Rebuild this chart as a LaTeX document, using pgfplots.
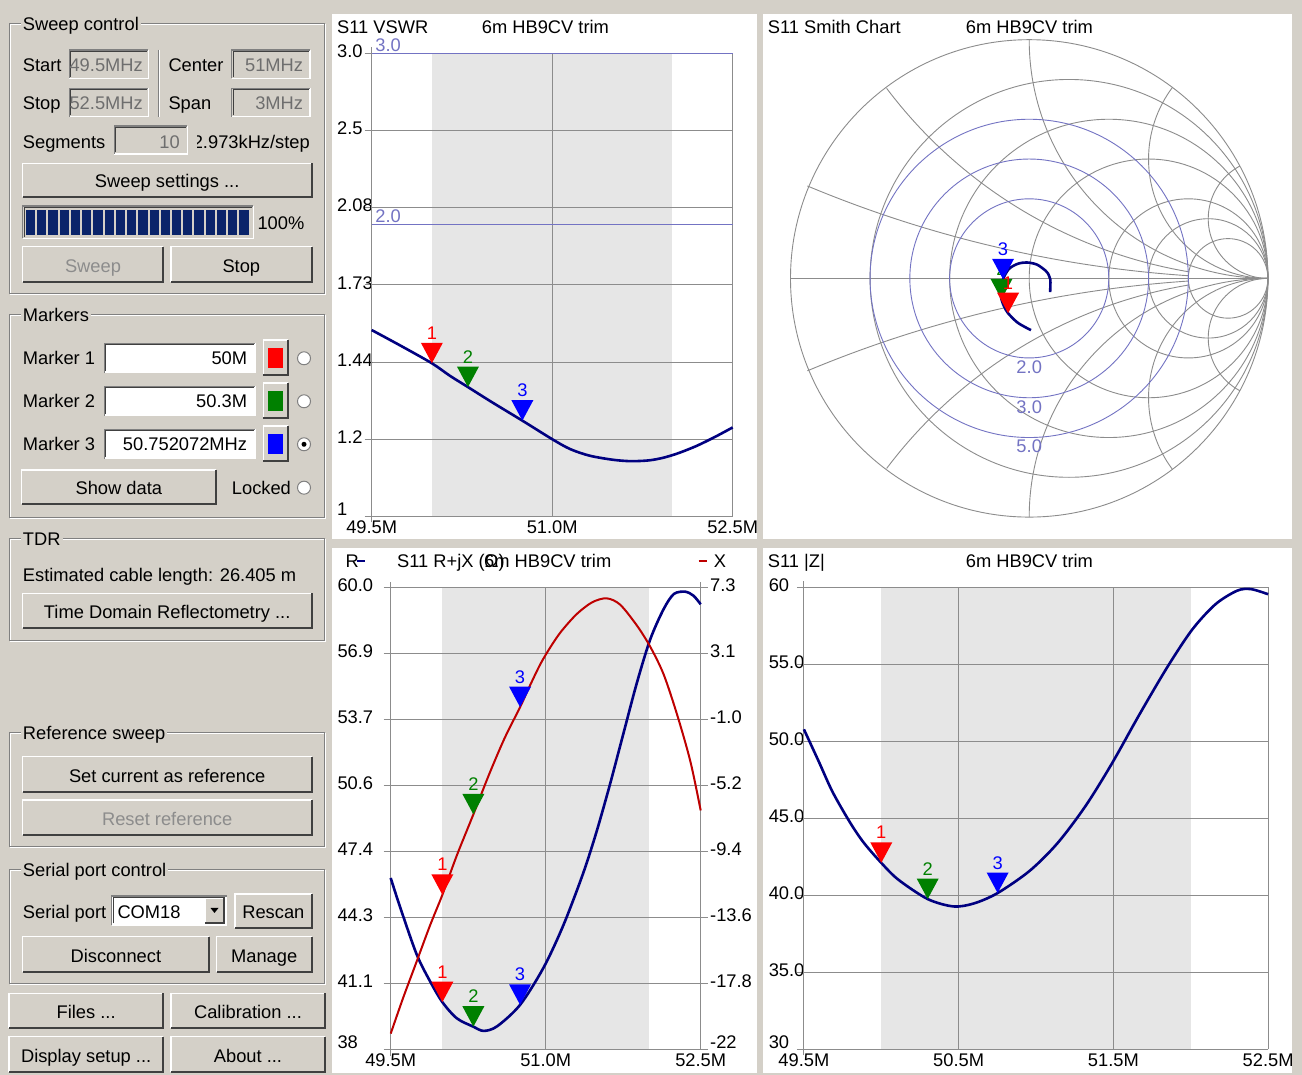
\documentclass[border=0pt]{standalone}
\usepackage{fontspec}
\setmainfont{Liberation Sans}
\usepackage{pgfplots}
\pgfplotsset{compat=1.18}
\usetikzlibrary{calc}

\definecolor{guibg}{RGB}{212,208,200}
\definecolor{gridgray}{RGB}{140,140,140}
\definecolor{bandgray}{RGB}{230,230,230}
\definecolor{navy}{RGB}{0,0,128}
\definecolor{xred}{RGB}{190,0,0}
\definecolor{swrcol}{RGB}{115,115,195}
\definecolor{mred}{RGB}{255,0,0}
\definecolor{mgreen}{RGB}{0,128,0}
\definecolor{mblue}{RGB}{0,0,255}
\definecolor{darkedge}{RGB}{64,64,64}
\definecolor{midedge}{RGB}{128,128,128}
\definecolor{distext}{RGB}{140,140,140}
\definecolor{boxtext}{RGB}{110,110,110}
\definecolor{barblue}{RGB}{10,36,106}

\newcommand{\ff}{\fontsize{18.3}{22}\selectfont}
\def\R{238.7pt}

\pgfdeclareplotmark{vtri}{%
  \pgfpathmoveto{\pgfqpoint{0pt}{0pt}}%
  \pgfpathlineto{\pgfqpoint{-11pt}{20.5pt}}%
  \pgfpathlineto{\pgfqpoint{11pt}{20.5pt}}%
  \pgfpathclose\pgfusepathqfill}

\tikzset{
  lbl/.style={anchor=base west, inner sep=0pt, font=\ff},
  rlbl/.style={anchor=base east, inner sep=0pt, font=\ff},
  sg/.style={gridgray, line width=0.9pt},
}

\pgfplotsset{
  vna/.style={scale only axis, anchor=south west, clip=false,
    axis line style={draw=none},
    grid=major, major grid style={gridgray, line width=0.9pt},
    tick style={gridgray, line width=0.9pt},
    tick align=outside, major tick length=7pt,
    xtick pos=bottom, ytick pos=left,
    xtick style={draw=none},
    ticklabel style={font=\ff, inner sep=0pt},
    xticklabel style={anchor=north, yshift=3pt},
    yticklabel style={anchor=base west, yshift=-4.3pt},
    /pgf/number format/assume math mode=true},
  mk/.style={only marks, mark=vtri, color=#1, point meta=explicit symbolic,
    nodes near coords,
    nodes near coords style={anchor=base, inner sep=0pt, yshift=24pt, font=\ff, text=#1}},
  crv/.style={line width=2.6pt, smooth},
}

\newcommand{\btn}[6][black]{%
  \fill[guibg] (#2,#3) rectangle (#4,#5);
  \draw[white, line width=1.5pt] (#2,#5) -- (#2,#3) -- (#4,#3);
  \draw[darkedge, line width=1.8pt] (#2,#5) -- (#4,#5) -- (#4,#3);
  \node[anchor=base, inner sep=0pt, font=\ff, text=#1] at ($(#2,#5)!0.5!(#4,#5)+(0,-9.5)$) {#6};}
\newcommand{\sunk}[5]{%
  \fill[#5] (#1,#2) rectangle (#3,#4);
  \draw[white, line width=1.5pt] (#1,#4) -- (#3,#4) -- (#3,#2);
  \draw[midedge, line width=1.5pt] (#1,#4) -- (#1,#2) -- (#3,#2);
  \draw[darkedge, line width=1pt] (#1+1.5,#4-1.5) -- (#1+1.5,#2+1.5) -- (#3-1.5,#2+1.5);}
\newcommand{\grp}[5]{%
  \draw[white, line width=1pt] (#1+1,#2+1) rectangle (#3+1,#4+1);
  \draw[midedge, line width=1pt] (#1,#2) rectangle (#3,#4);
  \node[anchor=base west, inner xsep=2pt, inner ysep=2pt, fill=guibg, font=\ff] at (#1+11.4,#2+7) {#5};}
\newcommand{\radio}[3]{%
  \fill[white] (#1,#2) circle[radius=6.5pt];
  \draw[midedge, line width=1pt] (#1,#2) circle[radius=6.5pt];
  \ifnum#3=1 \fill[black] (#1,#2) circle[radius=2.5pt];\fi}

\begin{document}
\begin{tikzpicture}
\begin{scope}[yshift=1075pt, x=1pt, y=-1pt]
\fill[guibg] (0,0) rectangle (1302,1075);
\fill[white] (332,14) rectangle (757,539);
\fill[white] (763,14) rectangle (1292,539);
\fill[white] (332,548) rectangle (757,1073);
\fill[white] (763,548) rectangle (1292,1073);
% band highlight 50-52 MHz
\fill[bandgray] (431.7,53.3) rectangle (671.7,516.4);
\fill[bandgray] (442.4,587.3) rectangle (649.0,1049.4);
\fill[bandgray] (881.3,587.3) rectangle (1190.7,1049.4);
% chart titles
\node[lbl] at (337,33.7) {S11 VSWR};
\node[lbl] at (481.7,33.7) {6m HB9CV trim};
\node[lbl] at (767.6,33.7) {S11 Smith Chart};
\node[lbl] at (965.7,33.7) {6m HB9CV trim};
\node[lbl] at (345.3,567.7) {R};
\draw[navy, line width=2.5pt] (357,561) -- (365,561);
\node[lbl] at (397,567.7) {S11 R+jX (Ω)};
\node[lbl] at (484,567.7) {6m HB9CV trim};
\draw[xred, line width=2.5pt] (698.7,561) -- (707,561);
\node[lbl] at (713.7,567.7) {X};
\node[lbl] at (767.6,567.7) {S11 |Z|};
\node[lbl] at (965.7,567.7) {6m HB9CV trim};

% ---------- Sweep control
\grp{9.3}{24}{324.5}{293.3}{Sweep control}
\node[lbl] at (22.7,71.7) {Start};
\sunk{69.3}{50}{148.3}{78.3}{guibg}
\begin{scope}\clip (70.8,51.5) rectangle (147,77); \node[rlbl, text=boxtext] at (143,71.7) {49.5MHz};\end{scope}
\node[lbl] at (168.3,71.7) {Center};
\sunk{231.7}{50}{310}{78.3}{guibg}
\node[rlbl, text=boxtext] at (303.3,71.7) {51MHz};
\node[lbl] at (22.7,110) {Stop};
\sunk{69.3}{88.3}{148.3}{116.7}{guibg}
\begin{scope}\clip (70.8,89.8) rectangle (147,115); \node[rlbl, text=boxtext] at (143,110) {52.5MHz};\end{scope}
\node[lbl] at (168.3,110) {Span};
\sunk{231.7}{88.3}{310}{116.7}{guibg}
\node[rlbl, text=boxtext] at (303.3,110) {3MHz};
\draw[midedge, line width=1pt] (158.3,50) -- (158.3,116.7);
\draw[white, line width=1pt] (159.3,50) -- (159.3,116.7);
\node[lbl] at (22.7,148.3) {Segments};
\sunk{114.3}{126}{187.3}{154}{guibg}
\node[rlbl, text=boxtext] at (180,148.3) {10};
\begin{scope}\clip (197,120) rectangle (320,160); \node[rlbl] at (310,148.3) {2.973kHz/step};\end{scope}
\btn{22.7}{163.3}{311.7}{197.3}{Sweep settings ...}
\sunk{22.7}{206}{253.3}{238.3}{guibg}
\foreach \i in {0,...,19} {\fill[barblue] (26+\i*11.23,210) rectangle (35.2+\i*11.23,235);}
\node[lbl] at (257.3,230) {100\%};
\btn[distext]{22.7}{246.7}{163.3}{281.7}{Sweep}
\btn{171}{246.7}{311.7}{281.7}{Stop}

% ---------- Markers
\grp{9.3}{315}{324}{517.3}{Markers}
\node[lbl] at (22.7,365) {Marker 1};
\sunk{104.3}{343.3}{255}{372.7}{white}
\node[rlbl] at (247.3,365) {50M};
\btn{263.3}{340}{288.3}{375}{}
\fill[mred] (268.3,348.3) rectangle (282.7,368.3);
\radio{304}{358.3}{0}
\node[lbl] at (22.7,408) {Marker 2};
\sunk{104.3}{386.3}{255}{415.7}{white}
\node[rlbl] at (247.3,408) {50.3M};
\btn{263.3}{383}{288.3}{418}{}
\fill[mgreen] (268.3,391.3) rectangle (282.7,411.3);
\radio{304}{401.3}{0}
\node[lbl] at (22.7,451) {Marker 3};
\sunk{104.3}{429.3}{255}{458.7}{white}
\begin{scope}\clip (106,430) rectangle (253,458); \node[rlbl] at (247.3,451) {50.752072MHz};\end{scope}
\btn{263.3}{426}{288.3}{461}{}
\fill[mblue] (268.3,434.3) rectangle (282.7,454.3);
\radio{304}{444.3}{1}
\btn{21.7}{470}{216}{504}{Show data}
\node[lbl] at (231.7,494.3) {Locked};
\radio{304}{487.7}{0}

% ---------- TDR
\grp{9.3}{538.3}{324}{641}{TDR}
\node[lbl] at (22.7,581.7) {Estimated cable length: 26.405 m};
\btn{22.7}{593.3}{311.7}{628.3}{Time Domain Reflectometry ...}

% ---------- Reference sweep
\grp{9.3}{732.7}{324}{846.7}{Reference sweep}
\btn{22.7}{756.7}{311.7}{791.7}{Set current as reference}
\btn[distext]{22.7}{800}{311.7}{835}{Reset reference}

% ---------- Serial port control
\grp{9.3}{869.3}{324}{983.3}{Serial port control}
\node[lbl] at (22.7,918.3) {Serial port};
\sunk{111.7}{896}{226.7}{925}{white}
\node[lbl] at (117.3,918.3) {COM18};
\btn{205}{898.3}{224}{923.3}{}
\fill[black] (210.5,908) -- (218.5,908) -- (214.5,913) -- cycle;
\btn{235}{894}{311.7}{928.3}{Rescan}
\btn{22.7}{936.7}{209}{971.7}{Disconnect}
\btn{216.7}{936.7}{311.7}{971.7}{Manage}
\btn{9}{993.3}{163.3}{1028.3}{Files ...}
\btn{171}{993.3}{325}{1028.3}{Calibration ...}
\btn{9}{1036.7}{163.3}{1071.7}{Display setup ...}
\btn{171}{1036.7}{325}{1071.7}{About ...}
\end{scope}

% ================= VSWR =================
\begin{axis}[vna, at={(371.7pt,558.6pt)}, width=361pt, height=463.1pt,
  xmin=49.5, xmax=52.5, ymode=log, ymin=1, ymax=3,
  xtick={49.5,51,52.5}, xticklabels={49.5M,51.0M,52.5M},
  ytick={1,1.2009,1.4422,1.7321,2.0801,2.4980,3},
  yticklabels={\raisebox{5.3pt}{1},1.2,1.44,1.73,2.08,2.5,3.0},
  yticklabel style={xshift=-27.7pt}]
\addplot[swrcol, line width=1pt] coordinates {(49.5,3) (52.5,3)};
\addplot[swrcol, line width=1pt] coordinates {(49.5,2) (52.5,2)};
\node[anchor=base west, inner sep=0pt, font=\ff, text=swrcol, xshift=3.5pt, yshift=2pt] at (axis cs:49.5,3) {3.0};
\node[anchor=base west, inner sep=0pt, font=\ff, text=swrcol, xshift=3.5pt, yshift=2pt] at (axis cs:49.5,2) {2.0};
\draw[gridgray, line width=0.9pt] ([yshift=-6pt]rel axis cs:0,0) -- ([yshift=6pt]rel axis cs:0,1);
\addplot[navy, crv] coordinates {(49.5,1.556)(49.75,1.497)(50.0,1.438)(50.15,1.396)(50.3,1.359)(50.5,1.311)(50.752,1.255)(51.0,1.201)(51.15,1.173)(51.31,1.155)(51.5,1.144)(51.65,1.140)(51.8,1.142)(51.92,1.149)(52.05,1.162)(52.2,1.182)(52.35,1.207)(52.5,1.235)};
\addplot[mk=mgreen] coordinates {(50.3,1.359) [2]};
\addplot[mk=mred] coordinates {(50.0,1.438) [1]};
\addplot[mk=mblue] coordinates {(50.752,1.255) [3]};
\end{axis}

% ================= Smith =================
\begin{axis}[at={(790.5pt,557.9pt)}, anchor=south west, scale only axis,
  width=477.4pt, height=477.4pt, xmin=-1, xmax=1, ymin=-1, ymax=1, hide axis, clip=false]
\draw[sg] (axis cs:0,0) circle[radius=\R];
\draw[sg] (axis cs:-1,0) -- (axis cs:1,0);
\draw[sg] (axis cs:0.5,0) circle[radius=0.5*\R];
\draw[sg] (axis cs:0.666667,0) circle[radius=0.333333*\R];
\draw[sg] (axis cs:0.75,0) circle[radius=0.25*\R];
\draw[sg] (axis cs:0.833333,0) circle[radius=0.166667*\R];
\draw[sg] (axis cs:0.333333,0) circle[radius=0.666667*\R];
\draw[sg] (axis cs:0.166667,0) circle[radius=0.833333*\R];
\draw[sg] (axis cs:1,0) arc[start angle=90, end angle=242, radius=0.25*\R];
\draw[sg] (axis cs:1,0) arc[start angle=90, end angle=217, radius=0.5*\R];
\draw[sg] (axis cs:1,0) arc[start angle=90, end angle=180, radius=\R];
\draw[sg] (axis cs:0.6699,-0.0274) arc[start angle=99.5, end angle=143, radius=2*\R];
\draw[sg] (axis cs:0.6643,-0.0113) arc[start angle=93.85, end angle=112.7, radius=5*\R];
\draw[sg] (axis cs:1,0) arc[start angle=-90, end angle=-242, radius=0.25*\R];
\draw[sg] (axis cs:1,0) arc[start angle=-90, end angle=-217, radius=0.5*\R];
\draw[sg] (axis cs:1,0) arc[start angle=-90, end angle=-180, radius=\R];
\draw[sg] (axis cs:0.6699,0.0274) arc[start angle=-99.5, end angle=-143, radius=2*\R];
\draw[sg] (axis cs:0.6643,0.0113) arc[start angle=-93.85, end angle=-112.7, radius=5*\R];
\draw[swrcol, line width=0.9pt] (axis cs:0,0) circle[radius=0.333333*\R];
\draw[swrcol, line width=0.9pt] (axis cs:0,0) circle[radius=0.5*\R];
\draw[swrcol, line width=0.9pt] (axis cs:0,0) circle[radius=0.666667*\R];
\node[font=\ff, text=swrcol, inner sep=0pt, yshift=-9pt] at (axis cs:0,-0.333333) {2.0};
\node[font=\ff, text=swrcol, inner sep=0pt, yshift=-9pt] at (axis cs:0,-0.5) {3.0};
\node[font=\ff, text=swrcol, inner sep=0pt, yshift=-9pt] at (axis cs:0,-0.666667) {5.0};
\addplot[navy, crv] coordinates {(0.0074,-0.2168)(-0.0475,-0.1862)(-0.0885,-0.1459)(-0.1056,-0.1168)(-0.1161,-0.0877)(-0.1208,-0.0491)(-0.1096,-0.0037)(-0.0856,0.0389)(-0.0491,0.0607)(-0.0108,0.0667)(0.0326,0.0578)(0.0695,0.0316)(0.0788,0.0204)(0.0884,-0.0042)(0.0886,-0.0311)(0.0878,-0.0572)};
\addplot[mk=mgreen] coordinates {(-0.1161,-0.0877) [2]};
\addplot[mk=mred] coordinates {(-0.0885,-0.1459) [1]};
\addplot[mk=mblue] coordinates {(-0.1096,-0.0037) [3]};
\end{axis}

% ================= R + jX =================
\begin{axis}[vna, at={(390.7pt,25.6pt)}, width=310pt, height=462.1pt,
  xmin=49.5, xmax=52.5, ymin=38, ymax=60,
  xtick={49.5,51,52.5}, xticklabels={49.5M,51.0M,52.5M},
  ytick={38,41.142857,44.285714,47.428571,50.571429,53.714286,56.857143,60},
  yticklabels={\raisebox{5pt}{38},41.1,44.3,47.4,50.6,53.7,56.9,60.0},
  yticklabel style={xshift=-46.4pt}]
\draw[gridgray, line width=0.9pt] ([yshift=-7pt]rel axis cs:0,0) -- ([yshift=5pt]rel axis cs:0,1);
\draw[gridgray, line width=0.9pt] (rel axis cs:1,0) -- ([yshift=5pt]rel axis cs:1,1);
\addplot[navy, crv] coordinates {(49.5,46.16)(49.59,44.79)(49.75,42.54)(49.88,41.25)(50.0,40.25)(50.14,39.48)(50.3,39.08)(50.4,38.88)(50.53,39.1)(50.752,40.12)(50.98,41.9)(51.17,43.9)(51.36,46.35)(51.49,48.33)(51.62,50.58)(51.75,53.0)(51.88,55.41)(52.01,57.5)(52.14,58.95)(52.24,59.68)(52.35,59.79)(52.43,59.6)(52.5,59.19)};
\addplot[mk=mgreen] coordinates {(50.3,39.08) [2]};
\addplot[mk=mred] coordinates {(50.0,40.25) [1]};
\addplot[mk=mblue] coordinates {(50.752,40.12) [3]};
\end{axis}
\begin{axis}[vna, at={(390.7pt,25.6pt)}, width=310pt, height=462.1pt,
  xmin=49.5, xmax=52.5, ymin=-22, ymax=7.3, grid=none,
  xtick=\empty, ytick pos=right, yticklabel pos=right,
  ytick={-22,-17.814286,-13.628571,-9.442857,-5.257143,-1.071429,3.114286,7.3},
  yticklabels={\raisebox{5pt}{-22},-17.8,-13.6,-9.4,-5.2,-1.0,3.1,7.3},
  yticklabel style={xshift=2.3pt}]
\addplot[xred, line width=2pt, smooth] coordinates {(49.5,-21.0)(49.62,-18.74)(49.75,-16.45)(49.88,-14.15)(50.0,-12.2)(50.14,-9.7)(50.3,-7.1)(50.45,-4.6)(50.6,-2.3)(50.752,-0.3)(50.85,1.1)(50.95,2.45)(51.05,3.55)(51.15,4.5)(51.3,5.6)(51.45,6.35)(51.59,6.6)(51.72,6.2)(51.88,4.9)(52.01,3.55)(52.14,1.8)(52.27,-0.74)(52.4,-3.74)(52.5,-6.85)};
\addplot[mk=mgreen] coordinates {(50.3,-7.1) [2]};
\addplot[mk=mred] coordinates {(50.0,-12.2) [1]};
\addplot[mk=mblue] coordinates {(50.752,-0.3) [3]};
\end{axis}

% ================= |Z| =================
\begin{axis}[vna, at={(803.9pt,25.6pt)}, width=464.2pt, height=462.1pt,
  xmin=49.5, xmax=52.5, ymin=30, ymax=60,
  xtick={49.5,50.5,51.5,52.5}, xticklabels={49.5M,50.5M,51.5M,52.5M},
  ytick={30,35,40,45,50,55,60}, yticklabels={\raisebox{5pt}{30},35.0,40.0,45.0,50.0,55.0,60},
  yticklabel style={xshift=-28.3pt}]
\draw[gridgray, line width=0.9pt] ([yshift=-6pt]rel axis cs:0,0) -- ([yshift=6pt]rel axis cs:0,1);
\addplot[navy, crv] coordinates {(49.5,50.78)(49.596,48.69)(49.685,46.72)(49.797,44.75)(49.886,43.43)(50.0,42.11)(50.11,41.02)(50.3,39.76)(50.467,39.28)(50.6,39.48)(50.752,40.15)(50.96,41.6)(51.14,43.4)(51.32,45.8)(51.49,48.55)(51.67,51.77)(51.85,54.84)(52.01,57.26)(52.16,58.9)(52.30,59.78)(52.39,59.88)(52.5,59.55)};
\addplot[mk=mgreen] coordinates {(50.3,39.76) [2]};
\addplot[mk=mred] coordinates {(50.0,42.11) [1]};
\addplot[mk=mblue] coordinates {(50.752,40.15) [3]};
\end{axis}

\pgfresetboundingbox
\path[use as bounding box] (0,0) rectangle (1302pt,1075pt);
\end{tikzpicture}
\end{document}
